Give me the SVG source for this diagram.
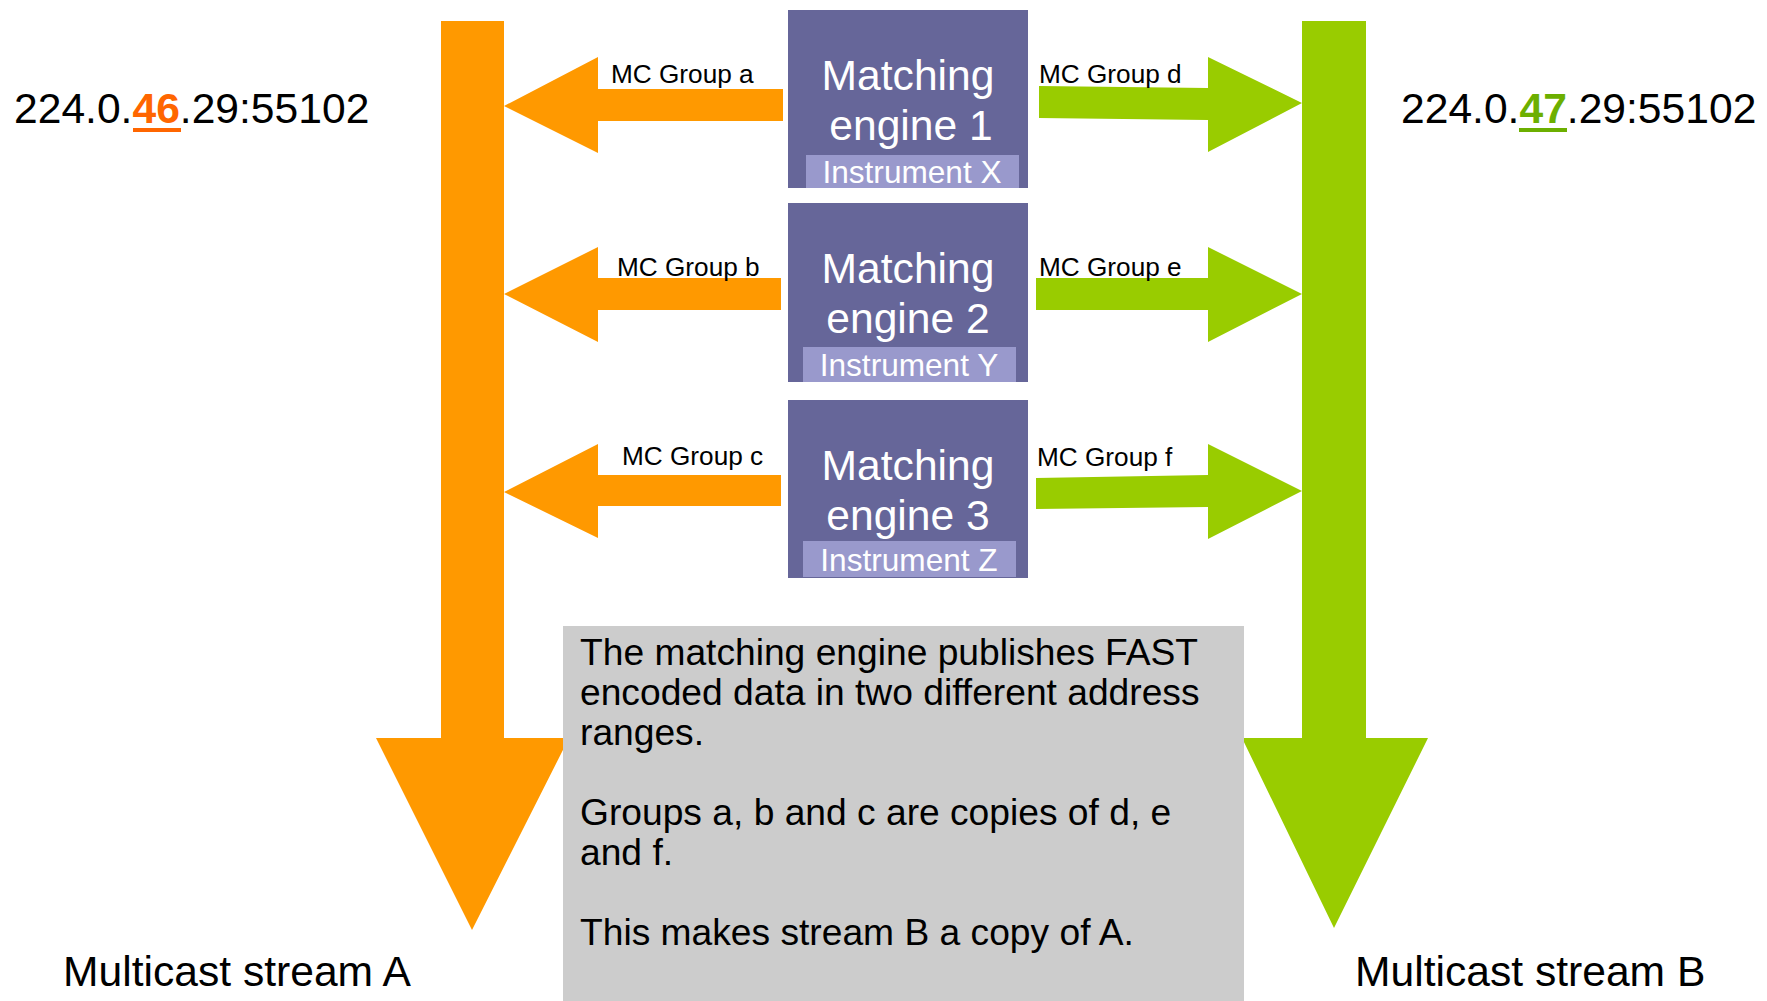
<svg xmlns="http://www.w3.org/2000/svg" width="1767" height="1001" viewBox="0 0 1767 1001">
<style>
text{font-family:"Liberation Sans",Arial,sans-serif;}
.org{fill:#FF9900;}
.grn{fill:#99CC00;}
.box{fill:#666699;}
.sub{fill:#9999CC;}
.title{font-size:42.6px;fill:#FFFFFF;text-anchor:middle;}
.inst{font-size:31.6px;fill:#FFFFFF;text-anchor:middle;}
.lbl{font-size:26.2px;fill:#000000;}
.big{font-size:42.6px;fill:#000000;}
.note{font-size:37.2px;fill:#000000;}
</style>
<rect x="0" y="0" width="1767" height="1001" fill="#FFFFFF"/>
<g id="connectors">
<polygon class="org" points="441,21 504,21 504,738 569,738 472,930 376,738 441,738"/>
<polygon class="grn" points="1302,21 1366,21 1366,738 1428,738 1334,928 1242,738 1302,738"/>
<polygon class="org" points="783,89 598,89 598,57 504,106 598,153 598,121 783,121"/>
<polygon class="org" points="781,278 598,278 598,247 504,294 598,342 598,310 781,310"/>
<polygon class="org" points="781,475 598,475 598,444 504,492 598,538 598,506 781,506"/>
<polygon class="grn" points="1039,86 1208,88 1208,57 1302,103 1208,152 1208,120 1039,118"/>
<polygon class="grn" points="1036,278 1208,278 1208,247 1302,294 1208,342 1208,310 1036,310"/>
<polygon class="grn" points="1036,478 1208,475 1208,444 1302,491 1208,539 1208,507 1036,509"/>
<text class="lbl" x="611" y="83">MC Group a</text>
<text class="lbl" x="617" y="276">MC Group b</text>
<text class="lbl" x="622" y="465">MC Group c</text>
<text class="lbl" x="1039" y="83">MC Group d</text>
<text class="lbl" x="1039" y="276">MC Group e</text>
<text class="lbl" x="1037" y="466">MC Group f</text>
</g>
<g id="engine1">
<rect class="box" x="788" y="10" width="240" height="178"/>
<rect class="sub" x="806" y="155" width="213" height="33"/>
<text class="title" x="908" y="90">Matching</text>
<text class="title" x="911" y="140">engine 1</text>
<text class="inst" x="912" y="183">Instrument X</text>
</g>
<g id="engine2">
<rect class="box" x="788" y="203" width="240" height="179"/>
<rect class="sub" x="803" y="347" width="213" height="35"/>
<text class="title" x="908" y="283">Matching</text>
<text class="title" x="908" y="333">engine 2</text>
<text class="inst" x="909" y="376">Instrument Y</text>
</g>
<g id="engine3">
<rect class="box" x="788" y="400" width="240" height="178"/>
<rect class="sub" x="803" y="541" width="213" height="36"/>
<text class="title" x="908" y="480">Matching</text>
<text class="title" x="908" y="530">engine 3</text>
<text class="inst" x="909" y="571">Instrument Z</text>
</g>
<g id="addressA">
<text class="big" x="14" y="123">224.0.<tspan fill="#FF6600" font-weight="bold">46</tspan>.29:55102</text>
<rect x="133" y="128" width="48" height="4" fill="#FF6600"/>
</g>
<g id="addressB">
<text class="big" x="1401" y="123">224.0.<tspan fill="#6CAF00" font-weight="bold">47</tspan>.29:55102</text>
<rect x="1519" y="128" width="48" height="4" fill="#6CAF00"/>
</g>
<g id="streamA">
<text class="big" x="63" y="986">Multicast stream A</text>
</g>
<g id="streamB">
<text class="big" x="1355" y="986">Multicast stream B</text>
</g>
<g id="note">
<rect x="563" y="626" width="681" height="375" fill="#CCCCCC"/>
<text class="note" x="580" y="665">The matching engine publishes FAST</text>
<text class="note" x="580" y="705">encoded data in two different address</text>
<text class="note" x="580" y="745">ranges.</text>
<text class="note" x="580" y="825">Groups a, b and c are copies of d, e</text>
<text class="note" x="580" y="865">and f.</text>
<text class="note" x="580" y="945">This makes stream B a copy of A.</text>
</g>
</svg>
